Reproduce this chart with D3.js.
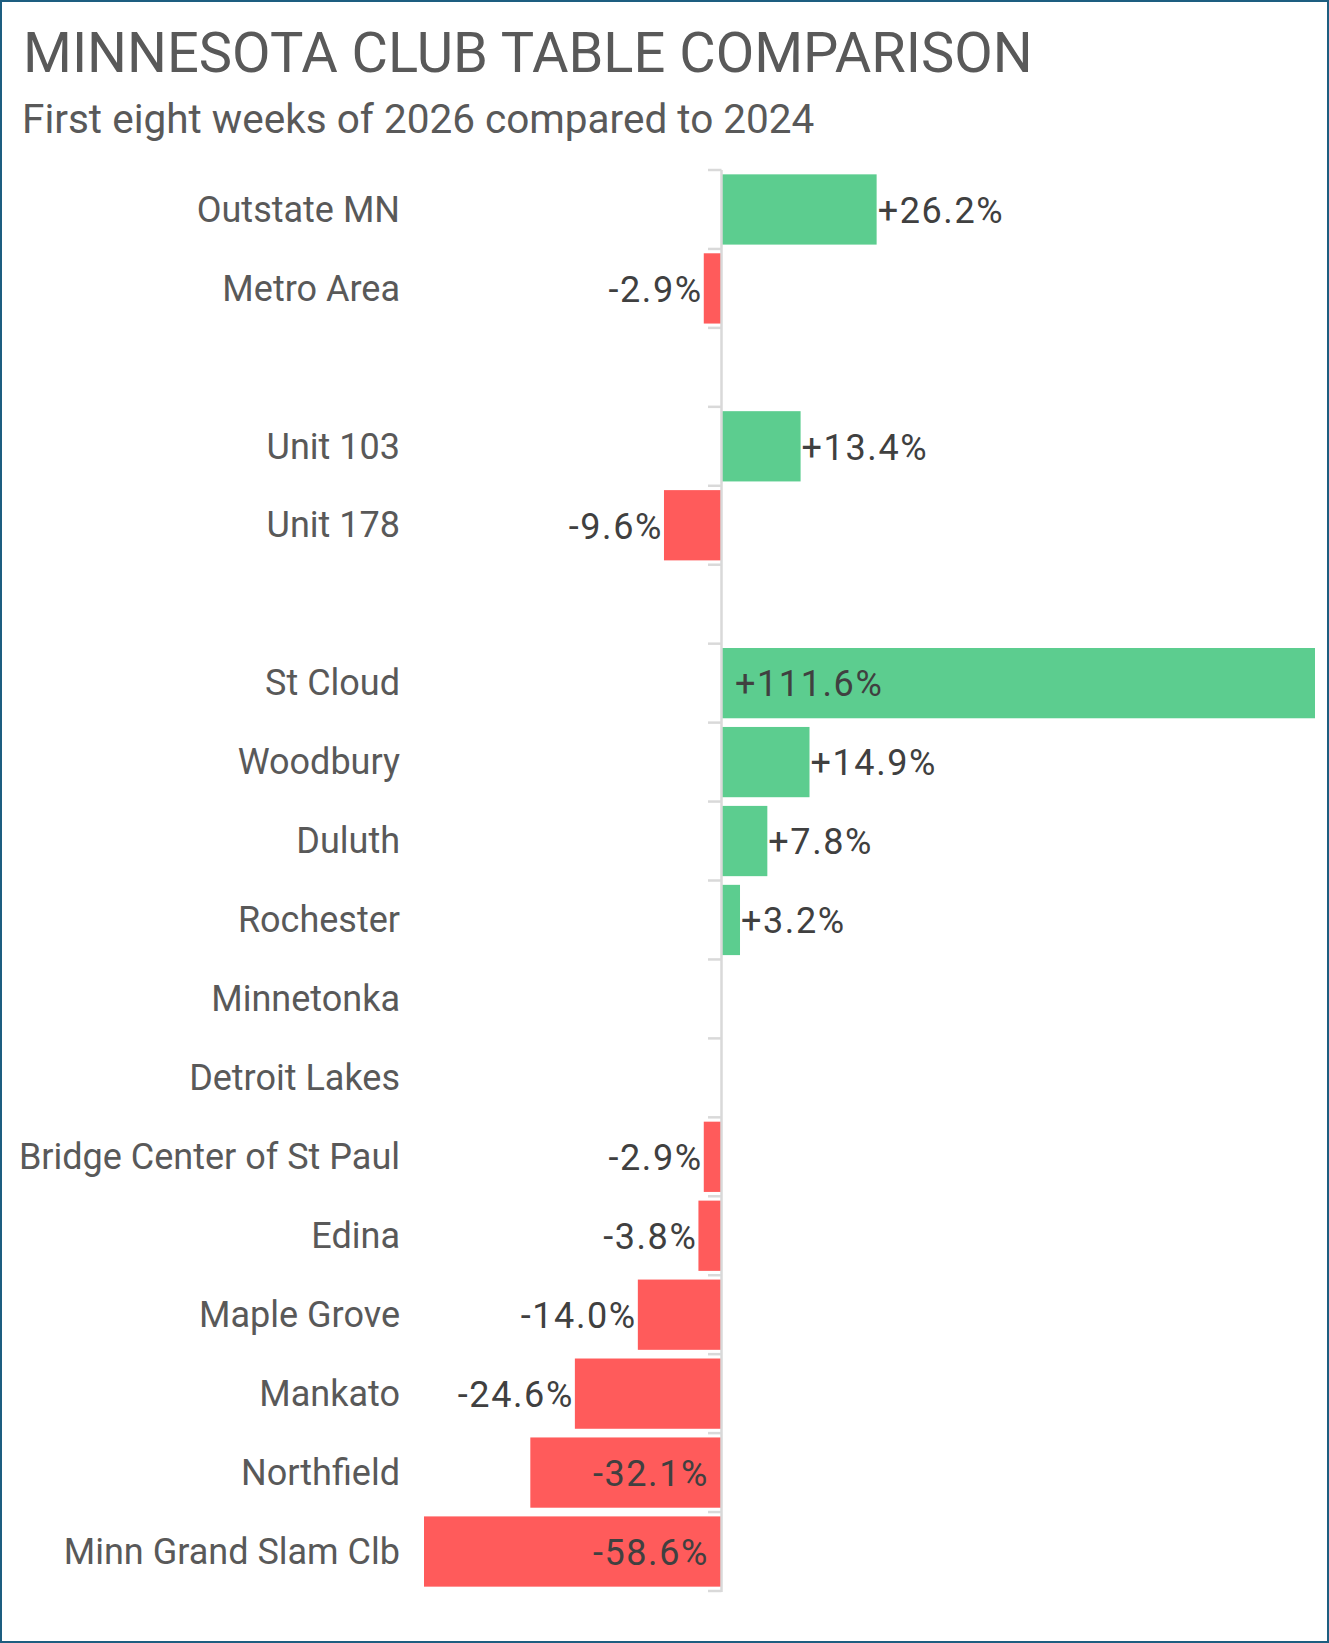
<!DOCTYPE html>
<html>
<head>
<meta charset="utf-8">
<script src="https://cdn.jsdelivr.net/npm/d3@7"></script>
<style>
  body { margin: 0; background: #fff; }
  text { font-family: Roboto, "Noto Sans", sans-serif; }
</style>
</head>
<body>
<div id="chart-area"></div>
<script>
// club rows, blanks are spacer rows between the groups
var clubs = ["Outstate MN", "Metro Area", "", "Unit 103", "Unit 178", "",
    "St Cloud", "Woodbury", "Duluth", "Rochester", "Minnetonka", "Detroit Lakes",
    "Bridge Center of St Paul", "Edina", "Maple Grove", "Mankato", "Northfield",
    "Minn Grand Slam Clb"];
// percent change, 2026 vs 2024 (null = no bar)
var change = [26.2, -2.9, null, 13.4, -9.6, null,
    111.6, 14.9, 7.8, 3.2, null, null,
    -2.9, -3.8, -14.0, -24.6, -32.1, -58.6];

var title = "MINNESOTA CLUB TABLE COMPARISON";
var subtitle = "First eight weeks of 2026 compared to 2024";

var width = 1329;
var height = 1643;

var svg = d3.select("#chart-area")
    .append("svg")
        .attr("width", width)
        .attr("height", height);

svg.append("rect")
    .attr("x", 1).attr("y", 1)
    .attr("width", width - 2).attr("height", height - 2)
    .attr("fill", "#fff")
    .attr("stroke", "#1d5e80")
    .attr("stroke-width", 2);

svg.append("text")
    .attr("x", 23).attr("y", 71.5)
    .attr("font-size", "56px")
    .attr("fill", "#595959")
    .text(title);

svg.append("text")
    .attr("x", 22).attr("y", 132.5)
    .attr("font-size", "40.5px")
    .attr("fill", "#595959")
    .text(subtitle);

var rows = clubs.map(function(c, i) { return {i: i, club: c, v: change[i]}; });

var x = d3.scaleLinear().domain([-50, 100]).range([424, 1315]).clamp(true);
var y = d3.scaleBand()
    .domain(d3.range(clubs.length))
    .range([170, 1591])
    .paddingInner(0.11)
    .paddingOuter(0.055);

var step = y.step();
var x0 = x(0);

// bars
svg.append("g").selectAll("rect")
    .data(rows.filter(function(d) { return d.v != null; }))
    .enter().append("rect")
        .attr("x", function(d) { return Math.min(x(d.v), x0); })
        .attr("y", function(d) { return y(d.i); })
        .attr("width", function(d) { return Math.abs(x(d.v) - x0); })
        .attr("height", y.bandwidth())
        .attr("fill", function(d) { return d.v >= 0 ? "#5ccd8f" : "#ff5b5b"; });

// category axis: line plus ticks between rows
var axis = svg.append("g");
axis.append("line")
    .attr("x1", x0 + 0.5).attr("x2", x0 + 0.5)
    .attr("y1", 170).attr("y2", 1592)
    .attr("stroke", "#d9d9d9")
    .attr("stroke-width", 2.5);
axis.selectAll(".tick")
    .data(d3.range(clubs.length + 1))
    .enter().append("line")
        .attr("class", "tick")
        .attr("x1", x0 - 13).attr("x2", x0 + 0.5)
        .attr("y1", function(i) { return 170 + i * step; })
        .attr("y2", function(i) { return 170 + i * step; })
        .attr("stroke", "#d9d9d9")
        .attr("stroke-width", 2.5);

svg.append("g").selectAll("text")
    .data(rows)
    .enter().append("text")
        .attr("x", 400)
        .attr("y", function(d) { return y(d.i) + y.bandwidth() / 2; })
        .attr("dy", "0.34em")
        .attr("text-anchor", "end")
        .attr("font-size", "36px")
        .attr("fill", "#595959")
        .text(function(d) { return d.club; });

// value labels: outside end, or inside base when they would not fit
var fmt = function(v) { return (v > 0 ? "+" : "") + v.toFixed(1) + "%"; };

svg.append("g").selectAll("text")
    .data(rows.filter(function(d) { return d.v != null; }))
    .enter().append("text")
        .attr("y", function(d) { return y(d.i) + y.bandwidth() / 2; })
        .attr("dy", "0.37em")
        .attr("font-size", "36px")
        .attr("letter-spacing", "1.6px")
        .attr("fill", "#404040")
        .text(function(d) { return fmt(d.v); })
        .each(function(d) {
            var t = d3.select(this);
            var w = this.getComputedTextLength();
            var end = x(d.v);
            if (d.v >= 0) {
                if (end + 2 + w > x.range()[1]) {
                    t.attr("x", x0 + 14).attr("text-anchor", "start");
                } else {
                    t.attr("x", end + 1).attr("text-anchor", "start");
                }
            } else {
                if (end - 3 - w < x.range()[0]) {
                    t.attr("x", x0 - 12).attr("text-anchor", "end");
                } else {
                    t.attr("x", end - 1).attr("text-anchor", "end");
                }
            }
        });
</script>
</body>
</html>
